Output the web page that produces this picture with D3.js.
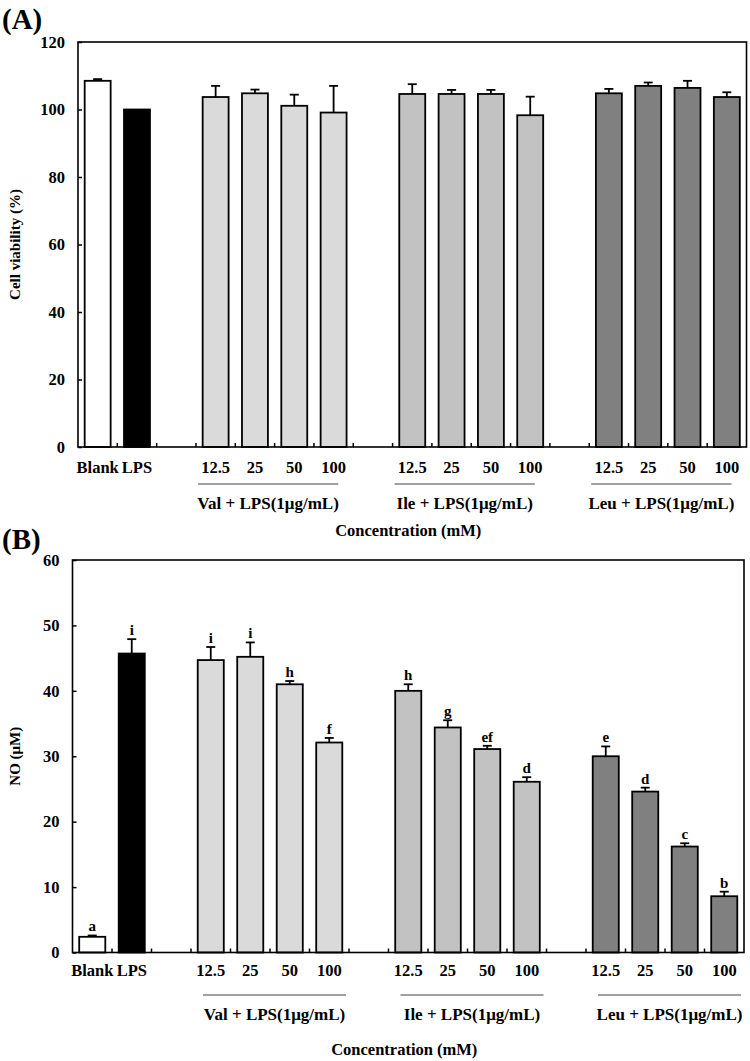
<!DOCTYPE html>
<html>
<head>
<meta charset="utf-8">
<script src="https://cdn.jsdelivr.net/npm/d3@7"></script>
<style>
  html, body { margin: 0; padding: 0; background: #fff; }
  svg text { font-family: "Liberation Serif", "Times New Roman", serif; font-weight: bold; fill: #000; }
</style>
</head>
<body>
<svg id="chart" width="750" height="1061"></svg>
<script>
// ---------- data ----------
const categories = ["Blank","LPS","gap1","Val 12.5","Val 25","Val 50","Val 100","gap2","Ile 12.5","Ile 25","Ile 50","Ile 100","gap3","Leu 12.5","Leu 25","Leu 50","Leu 100"];
const tickLabels = ["Blank","LPS","","12.5","25","50","100","","12.5","25","50","100","","12.5","25","50","100"];
const barCategories = ["Blank","LPS","Val 12.5","Val 25","Val 50","Val 100","Ile 12.5","Ile 25","Ile 50","Ile 100","Leu 12.5","Leu 25","Leu 50","Leu 100"];
const barGroups = ["blank","lps","val","val","val","val","ile","ile","ile","ile","leu","leu","leu","leu"];

const viability    = [108.5, 100.0, 103.7, 104.8, 101.1, 99.1, 104.6, 104.6, 104.6, 98.3, 104.8, 107.0, 106.4, 103.7];
const viabilityErr = [0.5, 0, 3.3, 1.1, 3.3, 7.9, 2.9, 1.2, 1.2, 5.5, 1.3, 1.0, 2.1, 1.4];

const nitricOxide    = [2.4, 45.7, 44.7, 45.2, 41.0, 32.1, 40.0, 34.4, 31.1, 26.1, 30.0, 24.6, 16.2, 8.6];
const nitricOxideErr = [0.2, 2.2, 2.0, 2.2, 0.5, 0.7, 1.0, 1.1, 0.5, 0.7, 1.5, 0.6, 0.5, 0.7];
const nitricOxideLetters = ["a","i","i","i","h","f","h","g","ef","d","e","d","c","b"];

const groupNames = ["Val + LPS(1μg/mL)", "Ile + LPS(1μg/mL)", "Leu + LPS(1μg/mL)"];
const groupFirst = ["Val 12.5", "Ile 12.5", "Leu 12.5"];
const groupLast  = ["Val 100", "Ile 100", "Leu 100"];

const xTitle = "Concentration (mM)";

// ---------- styles ----------
const fillOf = { blank: "#ffffff", lps: "#000000", val: "#dadada", ile: "#c2c2c2", leu: "#808080" };

const panels = [
  { tag: "(A)", tagY: 29, top: 42, bottom: 447, left: 78, right: 746.5, ymax: 120, ystep: 20,
    values: viability, errs: viabilityErr, letters: null, ylabel: "Cell viability (%)",
    xLabelDy: 26, lineDy: 37, groupDy: 62, titleDy: 89, lineInL: 2, lineInR: 15 },
  { tag: "(B)", tagY: 549, top: 560, bottom: 952.5, left: 72.5, right: 744, ymax: 60, ystep: 10,
    values: nitricOxide, errs: nitricOxideErr, letters: nitricOxideLetters, ylabel: "NO (μM)",
    xLabelDy: 24, lineDy: 42.5, groupDy: 67, titleDy: 102, lineInL: 12, lineInR: 3 }
];

const svg = d3.select("#chart");

panels.forEach(p => {
  const g = svg.append("g");
  const x = d3.scaleBand().domain(categories).range([p.left, p.right])
    .paddingInner(0.34).paddingOuter(0.17);
  const y = d3.scaleLinear().domain([0, p.ymax]).range([p.bottom, p.top]);
  const step = x.step();
  const slotStart = c => x(c) - step * 0.17;

  // panel tag
  g.append("text").attr("x", 2).attr("y", p.tagY).attr("font-size", 29).text(p.tag);

  const rows = barCategories.map((c, i) => ({ c, v: p.values[i], e: p.errs[i], grp: barGroups[i],
    letter: p.letters ? p.letters[i] : null }));

  // error bars (upward only)
  const eb = g.append("g").attr("stroke", "#000").attr("stroke-width", 1.8);
  rows.filter(d => d.e > 0).forEach(d => {
    const cx = x(d.c) + x.bandwidth() / 2;
    eb.append("line").attr("x1", cx).attr("x2", cx).attr("y1", y(d.v)).attr("y2", y(d.v + d.e));
    eb.append("line").attr("x1", cx - 4.5).attr("x2", cx + 4.5).attr("y1", y(d.v + d.e)).attr("y2", y(d.v + d.e));
  });

  // bars
  g.append("g").selectAll("rect").data(rows).join("rect")
    .attr("x", d => x(d.c)).attr("width", x.bandwidth())
    .attr("y", d => y(d.v)).attr("height", d => y(0) - y(d.v))
    .attr("fill", d => fillOf[d.grp]).attr("stroke", "#000").attr("stroke-width", 1.8);

  // significance letters
  if (p.letters) {
    g.append("g").selectAll("text").data(rows).join("text")
      .attr("x", d => x(d.c) + x.bandwidth() / 2)
      .attr("y", d => y(d.v + d.e) - 4)
      .attr("text-anchor", "middle").attr("font-size", 15)
      .text(d => d.letter);
  }

  // y axis (inward ticks)
  const yAxis = d3.axisLeft(y).tickValues(d3.range(0, p.ymax + 0.001, p.ystep))
    .tickSizeInner(-4).tickSizeOuter(0).tickPadding(13);
  const ya = g.append("g").attr("transform", `translate(${p.left},0)`).call(yAxis);
  ya.selectAll("text").attr("font-size", 16.5);
  ya.selectAll("line, path").attr("stroke", "#000").attr("stroke-width", 1.5);
  ya.select(".domain").remove();

  // x axis labels
  const xAxis = d3.axisBottom(x).tickSize(0).tickPadding(p.xLabelDy - 12)
    .tickFormat((c, i) => tickLabels[i]);
  const xa = g.append("g").attr("transform", `translate(0,${p.bottom})`).call(xAxis);
  xa.select(".domain").remove();
  xa.selectAll("text").attr("font-size", 16.5);

  // x ticks at slot boundaries (inward)
  const bounds = categories.map(c => slotStart(c)).slice(1);
  g.append("g").selectAll("line").data(bounds).join("line")
    .attr("x1", d => d).attr("x2", d => d).attr("y1", p.bottom).attr("y2", p.bottom - 4)
    .attr("stroke", "#000").attr("stroke-width", 1.5);

  // frame
  g.append("rect").attr("x", p.left).attr("y", p.top)
    .attr("width", p.right - p.left).attr("height", p.bottom - p.top)
    .attr("fill", "none").attr("stroke", "#000").attr("stroke-width", 1.6);

  // group lines + labels
  groupNames.forEach((name, i) => {
    const x0 = slotStart(groupFirst[i]) + p.lineInL;
    const x1 = slotStart(groupLast[i]) + step - p.lineInR;
    g.append("line").attr("x1", x0).attr("x2", x1)
      .attr("y1", p.bottom + p.lineDy).attr("y2", p.bottom + p.lineDy)
      .attr("stroke", "#444").attr("stroke-width", 1.2);
    g.append("text").attr("x", (x0 + x1) / 2).attr("y", p.bottom + p.groupDy)
      .attr("text-anchor", "middle").attr("font-size", 17).text(name);
  });

  // x title
  g.append("text").attr("x", (p.left + p.right) / 2 - 4).attr("y", p.bottom + p.titleDy)
    .attr("text-anchor", "middle").attr("font-size", 16.5).text(xTitle);

  // y title
  g.append("text").attr("transform", `translate(20,${(p.top + p.bottom) / 2}) rotate(-90)`)
    .attr("text-anchor", "middle").attr("font-size", 15).text(p.ylabel);
});
</script>
</body>
</html>
